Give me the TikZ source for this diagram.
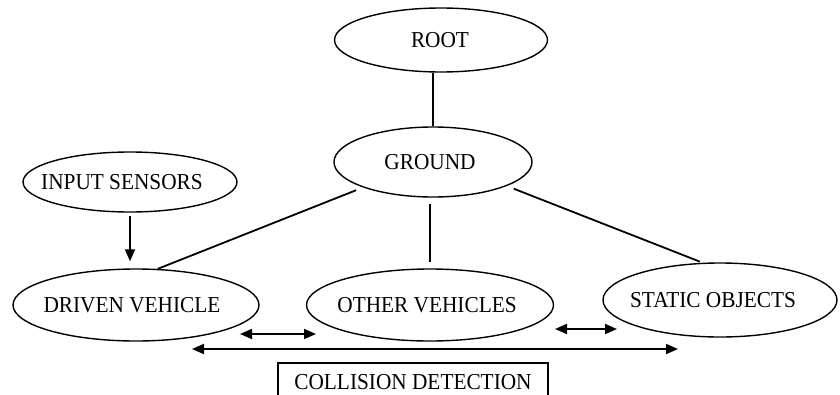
\documentclass[tikz,border=0pt]{standalone}
\usepackage{fontspec}
\setmainfont{Liberation Serif}
\usetikzlibrary{shapes.geometric,arrows.meta}
\newcommand{\shiftedtext}[2]{\hspace*{-#1pt}\scalebox{1}[1.07]{#2}\hspace*{#1pt}}
\begin{document}
\begin{tikzpicture}[x=1pt,y=-1pt,
  oval/.style={ellipse, draw, line width=1.4pt, inner xsep=-20pt, inner ysep=0pt,
    font=\fontsize{21.3}{25}\selectfont},
  conn/.style={line width=1.8pt},
  tip/.style={line width=1.8pt, -{Triangle[length=12pt,width=10pt]}},
  dbl/.style={line width=1.8pt, {Triangle[length=12pt,width=10pt]}-{Triangle[length=12pt,width=10pt]}},
  boxed/.style={draw, line width=1.7pt, minimum width=270pt, minimum height=38pt,
    inner sep=0pt, font=\fontsize{21.3}{25}\selectfont}
]
\useasboundingbox (0,0) rectangle (840,394);
\clip (0,0) rectangle (840,394);

\node[oval, minimum width=213pt, minimum height=64pt] (root) at (441,40) {\shiftedtext{1}{ROOT}};
\node[oval, minimum width=198pt, minimum height=70pt] (ground) at (433,162) {\shiftedtext{3}{GROUND}};
\node[oval, minimum width=214pt, minimum height=60pt] (input) at (130,182) {\shiftedtext{8}{INPUT SENSORS}};
\node[oval, minimum width=246pt, minimum height=72pt] (driven) at (136,305) {\shiftedtext{4}{DRIVEN VEHICLE}};
\node[oval, minimum width=247pt, minimum height=72pt] (other) at (430,305) {\shiftedtext{3}{OTHER VEHICLES}};
\node[oval, minimum width=234pt, minimum height=74pt] (static) at (720,300) {\shiftedtext{7}{STATIC OBJECTS}};
\node[boxed, anchor=north] (coll) at (413,362) {\scalebox{1}[1.07]{COLLISION DETECTION}};

\draw[conn] (ground.north) -- (ground.north |- root.south);
\draw[conn, shorten <=7.5pt] (ground.200) -- (driven.59);
\draw[conn, shorten <=6pt, shorten >=6pt] (ground.south -| other.north) -- (other.north);
\draw[conn, shorten <=7.5pt, shorten >=3pt] (ground.342) -- (static.115);
\draw[tip, shorten <=3pt, shorten >=7pt] (input.south) -- (input.south |- driven.north);

\coordinate (a1) at (240,334);
\coordinate (a2) at (316,334);
\coordinate (b1) at (555,329);
\coordinate (b2) at (617,329);
\coordinate (c1) at (192,349);
\coordinate (c2) at (678,349);
\draw[dbl] (a1) -- (a2);
\draw[dbl] (b1) -- (b2);
\draw[dbl] (c1) -- (c2);
\end{tikzpicture}
\end{document}
